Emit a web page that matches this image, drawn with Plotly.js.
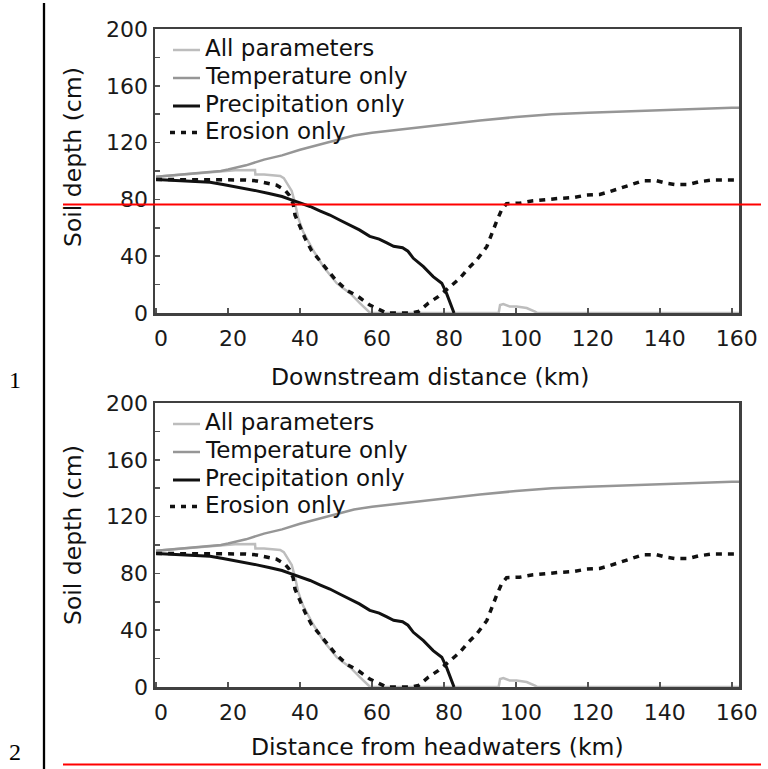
<!DOCTYPE html>
<html>
<head>
<meta charset="utf-8">
<script src="https://cdn.plot.ly/plotly-3.0.1.min.js"></script>
<style>
html, body { margin: 0; padding: 0; background: #ffffff; }
#chart { width: 768px; height: 769px; }
</style>
</head>
<body>
<div id="chart"></div>
<script>
// ---- Data ----
const seriesNames = ["All parameters", "Temperature only", "Precipitation only", "Erosion only"];
const xTitles = ["Downstream distance (km)", "Distance from headwaters (km)"];
const yTitle = "Soil depth (cm)";
const panelLabels = ["1", "2"];

const allX = [0, 5, 10, 15, 18, 22, 27.5, 27.6, 30, 32, 34.5, 35.5, 36.5, 37.7, 38.6, 39.5, 40.9, 42.3, 43.7, 46.5, 48.5, 50.2, 52, 53.9, 56.7, 58.9, 59.5, 95.2, 95.6, 96.5, 98.3, 100.2, 103, 105.3, 106, 162];
const allY = [96, 97, 98, 99, 100, 100.5, 100.7, 97.5, 97.5, 97, 96.5, 95, 91, 86, 77.5, 67, 57, 50, 44, 32.6, 26, 21, 17.5, 14, 6.8, 1, 0, 0, 5.6, 6.3, 4.5, 4.5, 3.5, 1, 0, 0];

const tempX = [0, 5, 10, 15, 18, 20, 25, 30, 35, 40, 45, 50, 55, 60, 65, 70, 80, 90, 100, 110, 120, 130, 140, 150, 160, 162];
const tempY = [96, 97, 98, 99, 100, 101, 104, 108, 111, 115, 118.5, 122, 125, 127, 128.5, 130, 133, 135.5, 138, 140, 141, 142, 143, 144, 144.5, 144.5];

const precX = [0, 5, 10, 15, 18.6, 22, 25, 28, 31.7, 35, 37.2, 40, 42.8, 45.5, 48.3, 51, 53.9, 56.5, 59.4, 62, 64, 66, 68.5, 70, 71.5, 74.3, 77, 78.5, 79.4, 80.7, 82.1, 82.8];
const precY = [94, 93.5, 93, 92, 90.5, 89, 87.5, 86, 84, 82, 80, 77.5, 75, 72, 69, 65.5, 62, 58.5, 54, 52, 49.5, 47, 46, 43.5, 38.5, 32.6, 25.6, 23, 21, 14, 4.5, 0];

const erosX = [0, 5, 10, 15, 20, 25, 28, 30, 32, 33.5, 35.8, 37, 38.1, 38.6, 40, 41.4, 43.2, 45.5, 47.9, 50, 53, 56.2, 59.4, 62.7, 64, 71, 72.9, 75.6, 78.4, 81.2, 84.4, 86.8, 89, 91.9, 93.2, 94.6, 96, 97.4, 101, 104.8, 112, 115.9, 119.6, 123.3, 126, 128.9, 132, 135.4, 139, 141.9, 144.2, 147.9, 151.1, 154.8, 162];
const erosY = [94, 94, 94, 94, 94, 93.7, 93, 92, 91, 90, 86.6, 83, 77, 69, 60.8, 52.6, 44, 37, 29, 23, 16, 11.5, 5.6, 2, 0, 0, 1, 6.8, 11.5, 17.4, 24.4, 31.5, 37, 46.7, 56, 64.3, 72.5, 77, 77.3, 79, 80.7, 81.3, 83, 83.5, 85.4, 87.8, 90.8, 93.2, 93.2, 91.3, 90.5, 90.5, 92.5, 93.7, 93.7];

// ---- Figure geometry (pixels) ----
const W = 768, H = 769;
const px = v => v / W;
const py = v => 1 - v / H;

const styles = [
  { color: "#bdbdbd", width: 2.5, dash: "solid" },
  { color: "#969696", width: 2.5, dash: "solid" },
  { color: "#111111", width: 3, dash: "solid" },
  { color: "#111111", width: 3.5, dash: "6px,6px" }
];
const xs = [allX, tempX, precX, erosX];
const ys = [allY, tempY, precY, erosY];

const traces = [];
for (let p = 0; p < 2; p++) {
  for (let i = 0; i < 4; i++) {
    traces.push({
      type: "scatter", mode: "lines",
      x: xs[i], y: ys[i],
      name: seriesNames[i],
      line: { color: styles[i].color, width: styles[i].width, dash: styles[i].dash },
      xaxis: p === 0 ? "x" : "x2",
      yaxis: p === 0 ? "y" : "y2",
      showlegend: false
    });
  }
}

const tickFont = { family: "DejaVu Sans, Arial, sans-serif", size: 22, color: "#1a1a1a" };
function xAxis(anchor) {
  return {
    anchor: anchor, domain: [px(155), px(739)], range: [-0.3, 162],
    tick0: 0, dtick: 20, ticks: "inside", ticklen: 5, tickwidth: 1.5, tickcolor: "#555",
    ticklabelshift: 5, ticklabelstandoff: 4,
    showline: true, linecolor: "#404040", linewidth: 2.5, mirror: true,
    showgrid: false, zeroline: false, tickfont: tickFont, fixedrange: true
  };
}
function yAxis(anchor, top, bottom) {
  return {
    anchor: anchor, domain: [py(bottom), py(top)], range: [0, 200],
    tick0: 0, dtick: 40, ticks: "inside", ticklen: 5, tickwidth: 1.5, tickcolor: "#555",
    minor: { dtick: 20, ticks: "inside", ticklen: 5, tickwidth: 1.5, tickcolor: "#555" },
    showline: true, linecolor: "#404040", linewidth: 2.5, mirror: true,
    showgrid: false, zeroline: false, tickfont: tickFont, fixedrange: true
  };
}

const titleFont = { family: "DejaVu Sans, Arial, sans-serif", size: 23.5, color: "#111" };
const legendFont = { family: "DejaVu Sans, Arial, sans-serif", size: 23, color: "#111" };
const numFont = { family: "Liberation Serif, Times New Roman, serif", size: 24, color: "#000" };

const annotations = [
  { text: yTitle, xref: "paper", yref: "paper", x: px(73), y: py(157), textangle: -90, showarrow: false, xanchor: "center", yanchor: "middle", font: titleFont },
  { text: xTitles[0], xref: "paper", yref: "paper", x: px(430), y: py(377), showarrow: false, xanchor: "center", yanchor: "middle", font: titleFont },
  { text: yTitle, xref: "paper", yref: "paper", x: px(73), y: py(535), textangle: -90, showarrow: false, xanchor: "center", yanchor: "middle", font: titleFont },
  { text: xTitles[1], xref: "paper", yref: "paper", x: px(437), y: py(747), showarrow: false, xanchor: "center", yanchor: "middle", font: titleFont },
  { text: panelLabels[0], xref: "paper", yref: "paper", x: px(15), y: py(380), showarrow: false, xanchor: "center", yanchor: "middle", font: numFont },
  { text: panelLabels[1], xref: "paper", yref: "paper", x: px(15), y: py(752), showarrow: false, xanchor: "center", yanchor: "middle", font: numFont }
];
const shapes = [
  { type: "line", xref: "paper", yref: "paper", x0: px(44), x1: px(44), y0: py(3), y1: 0, line: { color: "#000", width: 2.3 } },
  { type: "line", xref: "paper", yref: "paper", x0: px(63), x1: px(761), y0: py(204.5), y1: py(204.5), line: { color: "#ff0000", width: 2 } },
  { type: "line", xref: "paper", yref: "paper", x0: px(63), x1: px(761), y0: py(764.5), y1: py(764.5), line: { color: "#ff0000", width: 2 } }
];

// Legend drawn inside each panel (keys + labels)
const legendRows = [50, 78, 106, 132.5];
[0, 374].forEach(off => {
  for (let i = 0; i < 4; i++) {
    const yy = legendRows[i] + off;
    const dashed = styles[i].dash !== "solid";
    shapes.push({
      type: "line", xref: "paper", yref: "paper",
      x0: px(dashed ? 170 : 173), x1: px(200), y0: py(yy), y1: py(yy),
      line: { color: styles[i].color, width: styles[i].width, dash: dashed ? "5px,6px" : "solid" }
    });
    annotations.push({
      text: seriesNames[i], xref: "paper", yref: "paper", x: px(203), y: py(yy - 2),
      showarrow: false, xanchor: "left", yanchor: "middle", font: legendFont
    });
  }
});

const layout = {
  width: W, height: H,
  margin: { l: 0, r: 0, t: 0, b: 0 },
  paper_bgcolor: "#ffffff", plot_bgcolor: "#ffffff",
  xaxis: xAxis("y"), yaxis: yAxis("x", 29, 313),
  xaxis2: xAxis("y2"), yaxis2: yAxis("x2", 403, 687),
  annotations: annotations,
  shapes: shapes,
  showlegend: false
};

Plotly.newPlot("chart", traces, layout, { staticPlot: true, displayModeBar: false });
</script>
</body>
</html>
